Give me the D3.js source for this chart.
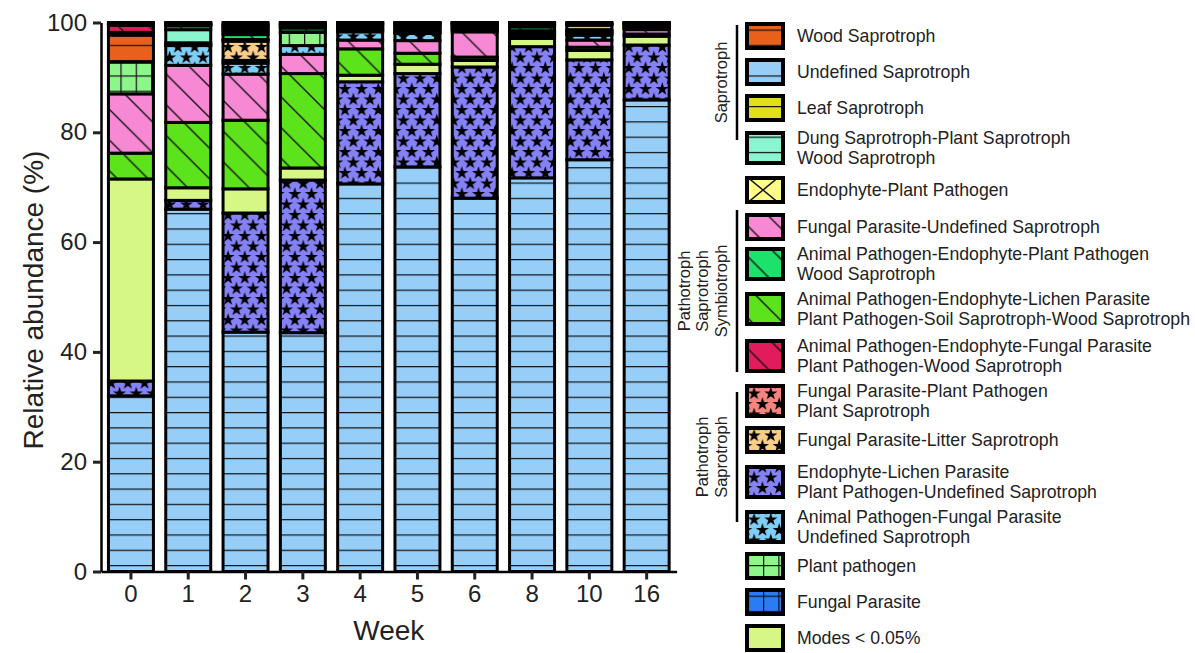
<!DOCTYPE html>
<html>
<head>
<meta charset="utf-8">
<script src="https://cdn.jsdelivr.net/npm/d3@7"></script>
<style>
  body { margin: 0; background: #fff; }
  svg { display: block; font-family: "Liberation Sans", Arial, sans-serif; }
</style>
</head>
<body>
<svg id="chart" width="1195" height="653"></svg>
<script>
// ---- data: relative abundance (%) of fungal guilds per sampling week ----
const weeks = ["0", "1", "2", "3", "4", "5", "6", "8", "10", "16"];
const yTicks = [0, 20, 40, 60, 80, 100];

// series, listed in stacking order (bottom to top)
const undefinedSaprotroph          = [32.0, 66.0, 43.6, 43.5, 70.6, 73.7, 68.0, 71.7, 75.0, 85.9];
const endophyteLichenParasite      = [2.7, 1.6, 21.7, 27.8, 18.6, 17.0, 23.9, 23.9, 18.2, 10.0];
const modesBelow005                = [36.8, 2.3, 4.4, 2.2, 1.2, 1.7, 1.2, 1.5, 1.7, 1.6];
const animalPathEndoLichen         = [4.7, 11.9, 12.5, 17.2, 4.8, 2.0, 0.6, 0.3, 0.6, 0.4];
const fungalParasiteUndefSap       = [10.8, 10.4, 8.4, 3.5, 1.6, 2.3, 4.6, 0.3, 1.3, 0.8];
const animalPathFungalParasite     = [0.0, 3.6, 2.0, 1.6, 1.5, 1.3, 0.3, 0.2, 0.9, 0.2];
const plantPathogen                = [5.8, 0.1, 0.5, 2.4, 0.2, 0.2, 0.2, 0.2, 0.2, 0.2];
const fungalParasiteLitter         = [0.0, 0.4, 3.5, 0.0, 0.2, 0.3, 0.2, 0.2, 0.2, 0.2];
const dungSaprotroph               = [0.0, 2.4, 0.3, 0.1, 0.2, 0.3, 0.2, 0.2, 0.2, 0.2];
const animalPathEndoPlantPath      = [0.0, 0.7, 0.9, 0.7, 0.3, 0.3, 0.2, 0.7, 0.2, 0.1];
const woodSaprotroph               = [4.9, 0.1, 0.5, 0.2, 0.2, 0.3, 0.2, 0.2, 0.2, 0.1];
const leafSaprotroph               = [0.5, 0.1, 0.4, 0.2, 0.2, 0.2, 0.2, 0.2, 0.8, 0.1];
const animalPathEndoFungalParasite = [1.3, 0.1, 0.4, 0.2, 0.2, 0.2, 0.1, 0.2, 0.2, 0.1];
const endophytePlantPathogen       = [0.2, 0.1, 0.3, 0.2, 0.1, 0.1, 0.05, 0.1, 0.1, 0.05];
const fungalParasitePlantPath      = [0.2, 0.1, 0.3, 0.1, 0.05, 0.05, 0.03, 0.05, 0.1, 0.03];
const fungalParasite               = [0.1, 0.1, 0.3, 0.1, 0.05, 0.05, 0.02, 0.05, 0.1, 0.02];

const seriesKeys = [
  "undefinedSaprotroph", "endophyteLichenParasite", "modesBelow005", "animalPathEndoLichen",
  "fungalParasiteUndefSap", "animalPathFungalParasite", "plantPathogen", "fungalParasiteLitter",
  "dungSaprotroph", "animalPathEndoPlantPath", "woodSaprotroph", "leafSaprotroph",
  "animalPathEndoFungalParasite", "endophytePlantPathogen", "fungalParasitePlantPath", "fungalParasite"
];
const seriesValues = [
  undefinedSaprotroph, endophyteLichenParasite, modesBelow005, animalPathEndoLichen,
  fungalParasiteUndefSap, animalPathFungalParasite, plantPathogen, fungalParasiteLitter,
  dungSaprotroph, animalPathEndoPlantPath, woodSaprotroph, leafSaprotroph,
  animalPathEndoFungalParasite, endophytePlantPathogen, fungalParasitePlantPath, fungalParasite
];

// legend entries (top to bottom), label lines
const legendKeys = [
  "woodSaprotroph", "undefinedSaprotroph", "leafSaprotroph", "dungSaprotroph",
  "endophytePlantPathogen", "fungalParasiteUndefSap", "animalPathEndoPlantPath", "animalPathEndoLichen",
  "animalPathEndoFungalParasite", "fungalParasitePlantPath", "fungalParasiteLitter", "endophyteLichenParasite",
  "animalPathFungalParasite", "plantPathogen", "fungalParasite", "modesBelow005"
];
const legendLabels = [
  ["Wood Saprotroph"],
  ["Undefined Saprotroph"],
  ["Leaf Saprotroph"],
  ["Dung Saprotroph-Plant Saprotroph", "Wood Saprotroph"],
  ["Endophyte-Plant Pathogen"],
  ["Fungal Parasite-Undefined Saprotroph"],
  ["Animal Pathogen-Endophyte-Plant Pathogen", "Wood Saprotroph"],
  ["Animal Pathogen-Endophyte-Lichen Parasite", "Plant Pathogen-Soil Saprotroph-Wood Saprotroph"],
  ["Animal Pathogen-Endophyte-Fungal Parasite", "Plant Pathogen-Wood Saprotroph"],
  ["Fungal Parasite-Plant Pathogen", "Plant Saprotroph"],
  ["Fungal Parasite-Litter Saprotroph"],
  ["Endophyte-Lichen Parasite", "Plant Pathogen-Undefined Saprotroph"],
  ["Animal Pathogen-Fungal Parasite", "Undefined Saprotroph"],
  ["Plant pathogen"],
  ["Fungal Parasite"],
  ["Modes < 0.05%"]
];
// trophic-mode groups of the legend
const groupLabels = [["Saprotroph"], ["Pathotroph", "Saprotroph", "Symbiotroph"], ["Pathotroph", "Saprotroph"]];

// ---- styles ----
const styles = {
  undefinedSaprotroph:          { color: "#96CEF8", pattern: "hlines" },
  endophyteLichenParasite:      { color: "#8581F6", pattern: "stars" },
  modesBelow005:                { color: "#D6F685", pattern: "solid" },
  animalPathEndoLichen:         { color: "#5CE31B", pattern: "diag" },
  fungalParasiteUndefSap:       { color: "#F788D3", pattern: "diag" },
  animalPathFungalParasite:     { color: "#7ECEF6", pattern: "stars" },
  plantPathogen:                { color: "#8CF68A", pattern: "grid" },
  fungalParasiteLitter:         { color: "#F9CE88", pattern: "stars" },
  dungSaprotroph:               { color: "#8BF5D2", pattern: "hlines" },
  animalPathEndoPlantPath:      { color: "#1CE16A", pattern: "diag" },
  woodSaprotroph:               { color: "#E8601C", pattern: "hlines" },
  leafSaprotroph:               { color: "#E1DE1A", pattern: "hlines" },
  animalPathEndoFungalParasite: { color: "#E11B5C", pattern: "diag" },
  endophytePlantPathogen:       { color: "#FFFF88", pattern: "cross" },
  fungalParasitePlantPath:      { color: "#F7857F", pattern: "stars" },
  fungalParasite:               { color: "#2A7BF4", pattern: "grid" }
};

const svg = d3.select("#chart");
const defs = svg.append("defs");

// ---- fill patterns (user space, so they line up across segments) ----
const LP = 15.3;      // horizontal / grid line period
const DP = 30.7;      // diagonal hatch period
const SW = 16.7, SH = 21;  // star lattice
const starPath = d3.symbol().type(d3.symbolStar).size(54)();

function makePattern(key) {
  const { color, pattern } = styles[key];
  const p = defs.append("pattern").attr("id", "pat-" + key).attr("patternUnits", "userSpaceOnUse");
  if (pattern === "solid") {
    p.attr("width", 10).attr("height", 10);
    p.append("rect").attr("width", 10).attr("height", 10).attr("fill", color);
  } else if (pattern === "hlines" || pattern === "grid") {
    p.attr("x", 13.3).attr("y", 14.2).attr("width", LP).attr("height", LP);
    p.append("rect").attr("width", LP).attr("height", LP).attr("fill", color);
    p.append("rect").attr("width", LP).attr("height", 1.2).attr("fill", "#111");
    if (pattern === "grid") p.append("rect").attr("width", 1.2).attr("height", LP).attr("fill", "#111");
  } else if (pattern === "diag") {
    p.attr("width", DP).attr("height", DP);
    p.append("rect").attr("width", DP).attr("height", DP).attr("fill", color);
    p.append("path")
      .attr("d", `M${-DP / 2},${DP / 2}L${DP / 2},${1.5 * DP}M-2,-2L${DP + 2},${DP + 2}M${DP / 2},${-DP / 2}L${1.5 * DP},${DP / 2}`)
      .attr("stroke", "#111").attr("stroke-width", 1.4).attr("fill", "none");
  } else if (pattern === "cross") {
    const C = 34;
    p.attr("x", 746).attr("y", 176).attr("width", C).attr("height", 28);
    p.append("rect").attr("width", C).attr("height", 28).attr("fill", color);
    p.append("path").attr("d", `M0,0L${C},28M${C},0L0,28`)
      .attr("stroke", "#111").attr("stroke-width", 1.4).attr("fill", "none");
  } else if (pattern === "stars") {
    p.attr("x", 6.8).attr("y", -0.95).attr("width", SW).attr("height", SH);
    p.append("rect").attr("width", SW).attr("height", SH).attr("fill", color);
    const centres = [[SW / 4, SH / 4], [3 * SW / 4, 3 * SH / 4]];
    centres.forEach(([cx, cy]) => {
      [-1, 0, 1].forEach(dx => [-1, 0, 1].forEach(dy => {
        p.append("path").attr("d", starPath)
          .attr("transform", `translate(${cx + dx * SW},${cy + dy * SH + 0.8})`)
          .attr("fill", "#000");
      }));
    });
  }
}
seriesKeys.forEach(makePattern);

// ---- scales ----
const x = d3.scaleBand().domain(weeks).range([101, 676.6]).paddingInner(0.215).paddingOuter(0.13);
const y = d3.scaleLinear().domain([0, 100]).range([571.5, 22.5]);

// ---- stacked bars ----
const table = weeks.map((w, i) => {
  const row = { week: w };
  seriesKeys.forEach((k, j) => { row[k] = seriesValues[j][i]; });
  return row;
});
const stacked = d3.stack().keys(seriesKeys)(table);

const barG = svg.append("g");
stacked.forEach(layer => {
  barG.append("g").selectAll("rect")
    .data(layer.filter(d => d[1] - d[0] > 0))
    .join("rect")
    .attr("x", d => x(d.data.week))
    .attr("width", x.bandwidth())
    .attr("y", d => y(d[1]))
    .attr("height", d => y(d[0]) - y(d[1]))
    .attr("fill", `url(#pat-${layer.key})`)
    .attr("stroke", "#000")
    .attr("stroke-width", 3);
});

// ---- axes ----
const yAxis = svg.append("g").attr("transform", "translate(101,0)")
  .call(d3.axisLeft(y).tickValues(yTicks).tickSize(8).tickSizeOuter(0).tickPadding(6));
const xAxis = svg.append("g").attr("transform", "translate(0,571.5)")
  .call(d3.axisBottom(x).tickSize(8).tickSizeOuter(0).tickPadding(5));
[yAxis, xAxis].forEach(a => {
  a.select(".domain").attr("stroke", "#000").attr("stroke-width", 2.5);
  a.selectAll(".tick line").attr("stroke", "#222").attr("stroke-width", 3);
  a.selectAll(".tick text").attr("fill", "#222").style("font-size", "24px")
    .style("font-family", '"Liberation Sans", Arial, sans-serif');
});

svg.append("text")
  .attr("transform", "translate(33,300) rotate(-90)")
  .attr("text-anchor", "middle").attr("dy", "0.35em")
  .attr("fill", "#222").style("font-size", "28px")
  .text("Relative abundance (%)");
svg.append("text")
  .attr("x", (x.range()[0] + x.range()[1]) / 2).attr("y", 630)
  .attr("text-anchor", "middle").attr("dy", "0.35em")
  .attr("fill", "#222").style("font-size", "28px")
  .text("Week");

// ---- legend ----
const legendCentres = [36, 72, 108, 148, 190, 227, 264, 309, 356, 401, 440, 482, 527, 566, 602, 638];
const bracketExtents = [[25, 140], [210, 372], [392, 522]];
const leg = svg.append("g");
legendKeys.forEach((k, i) => {
  const lines = legendLabels[i];
  const h = lines.length > 1 ? 34 : 28;
  const cy = legendCentres[i];
  leg.append("rect")
    .attr("x", 747).attr("y", cy - h / 2 + 2)
    .attr("width", 36).attr("height", h - 4)
    .attr("fill", `url(#pat-${k})`)
    .attr("stroke", "#000").attr("stroke-width", 4);
  const t = leg.append("text").attr("x", 797).attr("fill", "#222").style("font-size", "17.7px");
  lines.forEach((line, j) => {
    t.append("tspan").attr("x", 797)
      .attr("y", cy + (j - (lines.length - 1) / 2) * 20)
      .attr("dy", "0.35em").text(line);
  });
});

// trophic-mode brackets
groupLabels.forEach((lines, g) => {
  const [top, bot] = bracketExtents[g];
  leg.append("line").attr("x1", 737).attr("x2", 737).attr("y1", top).attr("y2", bot)
    .attr("stroke", "#000").attr("stroke-width", 2.5);
  const mid = (top + bot) / 2;
  lines.forEach((line, j) => {
    const xx = 721 - (lines.length - 1 - j) * 18.5;
    leg.append("text")
      .attr("transform", `translate(${xx},${mid}) rotate(-90)`)
      .attr("text-anchor", "middle").attr("dy", "0.35em")
      .attr("fill", "#222").style("font-size", "16.5px")
      .text(line);
  });
});
</script>
</body>
</html>
